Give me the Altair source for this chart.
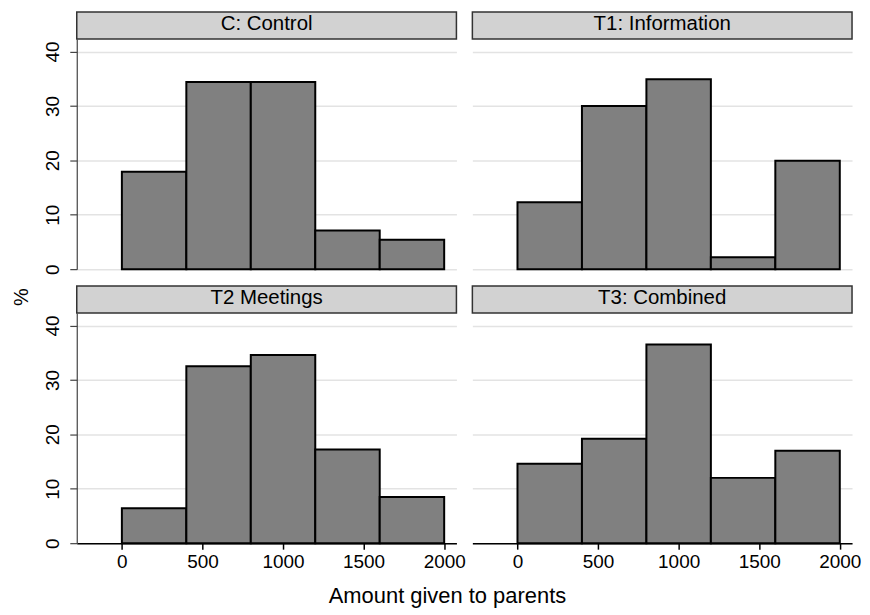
import altair as alt
import pandas as pd

groups = ["C: Control", "T1: Information", "T2 Meetings", "T3: Combined"]
bin_start = [0, 400, 800, 1200, 1600]
bin_end = [400, 800, 1200, 1600, 2000]
pct_control = [17.9, 34.4, 34.4, 7.1, 5.4]
pct_information = [12.3, 30.0, 34.9, 2.2, 19.9]
pct_meetings = [6.4, 32.5, 34.6, 17.2, 8.5]
pct_combined = [14.6, 19.2, 36.5, 12.0, 17.0]
x_ticks = [0, 500, 1000, 1500, 2000]
y_ticks = [0, 10, 20, 30, 40]
x_title = "Amount given to parents"
y_title = "%"

FONT = "Liberation Sans"
W, H, HH = 381, 231, 27
GRID = "#e3e3e3"


def panel(i, vals, left, bottom):
    df = pd.DataFrame({"start": bin_start, "end": bin_end, "pct": vals,
                       "base": [0] * len(vals)})
    if bottom:
        xaxis = alt.Axis(
            values=x_ticks, grid=False, domainColor="#000", domainWidth=1.5,
            tickColor="#000", tickSize=6, tickWidth=1.5, labelFont=FONT,
            labelFontSize=19, labelColor="#000", labelPadding=3, labelFlush=False,
            labelOverlap=False, format="d", title=None,
        )
    else:
        xaxis = None
    if left:
        yaxis = alt.Axis(
            values=y_ticks, grid=True, gridColor=GRID, gridWidth=1.5,
            domainColor="#444", domainWidth=1.2, tickColor="#444", tickSize=7,
            tickWidth=1.2, labelAngle=270, labelAlign="center",
            labelBaseline="alphabetic", labelPadding=11, labelFont=FONT,
            labelFontSize=19, labelColor="#000", labelFlush=False, title=None,
        )
    else:
        yaxis = alt.Axis(
            values=y_ticks, grid=True, gridColor=GRID, gridWidth=1.5,
            labels=False, ticks=False, domain=False, title=None,
        )
    bars = (
        alt.Chart(df)
        .mark_bar(fill="#808080", stroke="#000", strokeWidth=2)
        .encode(
            x=alt.X("start:Q", scale=alt.Scale(domain=[-280, 2076], nice=False, zero=False), axis=xaxis),
            x2="end:Q",
            y=alt.Y("pct:Q", scale=alt.Scale(domain=[0, 42.3], nice=False), axis=yaxis),
            y2="base:Q",
        )
    )
    hdr = pd.DataFrame({"label": [groups[i]]})
    box = (
        alt.Chart(hdr)
        .mark_rect(fill="#d2d2d2", stroke="#333333", strokeWidth=1.5)
        .encode(x=alt.value(0), x2=alt.value(W), y=alt.value(-HH), y2=alt.value(0))
    )
    txt = (
        alt.Chart(hdr)
        .mark_text(font=FONT, fontSize=20.5, color="#000", baseline="alphabetic", align="center")
        .encode(text="label:N", x=alt.value(W / 2), y=alt.value(-8.8))
    )
    layers = [bars, box, txt]
    if i == 2:
        ytxt = (
            alt.Chart(pd.DataFrame({"t": [y_title]}))
            .mark_text(font=FONT, fontSize=20, color="#000", angle=270,
                       baseline="alphabetic", align="center")
            .encode(text="t:N", x=alt.value(-49), y=alt.value(-16))
        )
        xtxt = (
            alt.Chart(pd.DataFrame({"t": [x_title]}))
            .mark_text(font=FONT, fontSize=22, color="#000",
                       baseline="alphabetic", align="center")
            .encode(text="t:N", x=alt.value(372), y=alt.value(291))
        )
        layers += [ytxt, xtxt]
    return alt.layer(*layers).properties(width=W, height=H)


chart = (
    alt.concat(
        panel(0, pct_control, True, False),
        panel(1, pct_information, False, False),
        panel(2, pct_meetings, True, True),
        panel(3, pct_combined, False, True),
        columns=2,
        bounds="flush",
        spacing={"row": 44, "column": 16},
    )
    .properties(padding={"left": 3, "top": 1, "right": 0, "bottom": 0}, background="#ffffff")
    .configure_view(stroke="transparent")
)

chart.save("out.html", embed_options={"renderer": "svg", "actions": False})
